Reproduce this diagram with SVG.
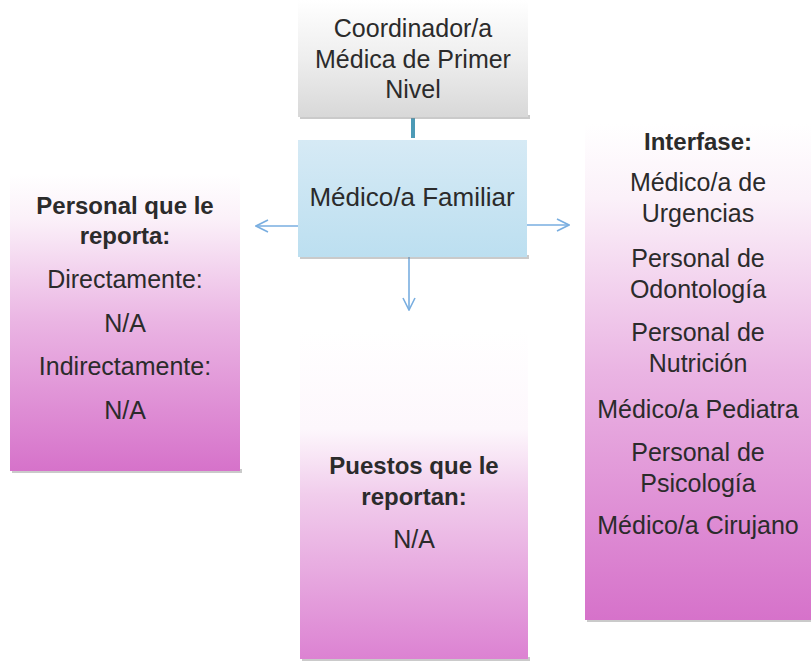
<svg xmlns="http://www.w3.org/2000/svg" width="811" height="663" viewBox="0 0 811 663">
<style>
.t{font-family:"Liberation Sans",Arial,sans-serif;font-size:25px;fill:#2b2b2b;text-anchor:middle}
.b{font-weight:bold;font-size:24px}
.shadow{fill:#8a8a8a;opacity:0.45}
.arrow{stroke:#79aee0;stroke-width:1.6;fill:none}
</style>
<defs>
<linearGradient id="gray" x1="0" y1="0" x2="0" y2="1">
<stop offset="0" stop-color="#ffffff"/>
<stop offset="0.5" stop-color="#eeeeee"/>
<stop offset="1" stop-color="#d8d8d8"/>
</linearGradient>
<linearGradient id="blue" x1="0" y1="0" x2="0" y2="1">
<stop offset="0" stop-color="#d6eaf5"/>
<stop offset="1" stop-color="#bcdff0"/>
</linearGradient>
<linearGradient id="pink" x1="0" y1="0" x2="0" y2="1">
<stop offset="0" stop-color="#ffffff"/>
<stop offset="0.15" stop-color="#fbf1f9"/>
<stop offset="0.5" stop-color="#eab4e3"/>
<stop offset="1" stop-color="#d672ca"/>
</linearGradient>
<linearGradient id="pinkMid" x1="0" y1="0" x2="0" y2="1">
<stop offset="0" stop-color="#ffffff"/>
<stop offset="0.3" stop-color="#fdf7fc"/>
<stop offset="0.5" stop-color="#f1cdec"/>
<stop offset="1" stop-color="#dc82d2"/>
</linearGradient>
<marker id="open" viewBox="0 0 14 14" refX="13" refY="7" markerWidth="14" markerHeight="14" markerUnits="userSpaceOnUse" orient="auto">
<path d="M1,1 L13,7 L1,13" fill="none" stroke="#79aee0" stroke-width="1.6"/>
</marker>
</defs>

<g id="connectors">
<line x1="413" y1="118" x2="413" y2="138" stroke="#4c9ab6" stroke-width="4"/>
<line class="arrow" x1="298" y1="226" x2="256" y2="226" marker-end="url(#open)"/>
<line class="arrow" x1="527" y1="225" x2="569" y2="225" marker-end="url(#open)"/>
<line class="arrow" x1="409" y1="257" x2="409" y2="310" marker-end="url(#open)"/>
</g>

<g id="coordinador">
<rect class="shadow" x="300" y="115" width="230" height="4"/>
<rect x="298" y="0" width="230" height="117" fill="url(#gray)"/>
<text class="t" x="413" y="37">Coordinador/a</text>
<text class="t" x="413" y="68">Médica de Primer</text>
<text class="t" x="413" y="98">Nivel</text>
</g>

<g id="medico-familiar">
<rect class="shadow" x="300" y="255" width="229" height="4"/>
<rect x="298" y="140" width="229" height="117" fill="url(#blue)"/>
<text class="t" x="412" y="206" style="font-size:26px">Médico/a Familiar</text>
</g>

<g id="personal-reporta">
<rect class="shadow" x="12" y="469" width="230" height="4"/>
<rect x="10" y="174" width="230" height="297" fill="url(#pink)"/>
<text class="t b" x="125" y="214">Personal que le</text>
<text class="t b" x="125" y="244">reporta:</text>
<text class="t" x="125" y="288">Directamente:</text>
<text class="t" x="125" y="332">N/A</text>
<text class="t" x="125" y="375">Indirectamente:</text>
<text class="t" x="125" y="419">N/A</text>
</g>

<g id="puestos-reportan">
<rect class="shadow" x="302" y="657" width="228" height="4"/>
<rect x="300" y="330" width="228" height="329" fill="url(#pinkMid)"/>
<text class="t b" x="414" y="474">Puestos que le</text>
<text class="t b" x="414" y="505">reportan:</text>
<text class="t" x="414" y="548">N/A</text>
</g>

<g id="interfase">
<rect class="shadow" x="587" y="618" width="224" height="4"/>
<rect x="585" y="124" width="226" height="496" fill="url(#pink)"/>
<text class="t b" x="698" y="150">Interfase:</text>
<text class="t" x="698" y="191">Médico/a de</text>
<text class="t" x="698" y="222">Urgencias</text>
<text class="t" x="698" y="267">Personal de</text>
<text class="t" x="698" y="298">Odontología</text>
<text class="t" x="698" y="341">Personal de</text>
<text class="t" x="698" y="372">Nutrición</text>
<text class="t" x="698" y="418">Médico/a Pediatra</text>
<text class="t" x="698" y="461">Personal de</text>
<text class="t" x="698" y="492">Psicología</text>
<text class="t" x="698" y="534">Médico/a Cirujano</text>
</g>
</svg>
